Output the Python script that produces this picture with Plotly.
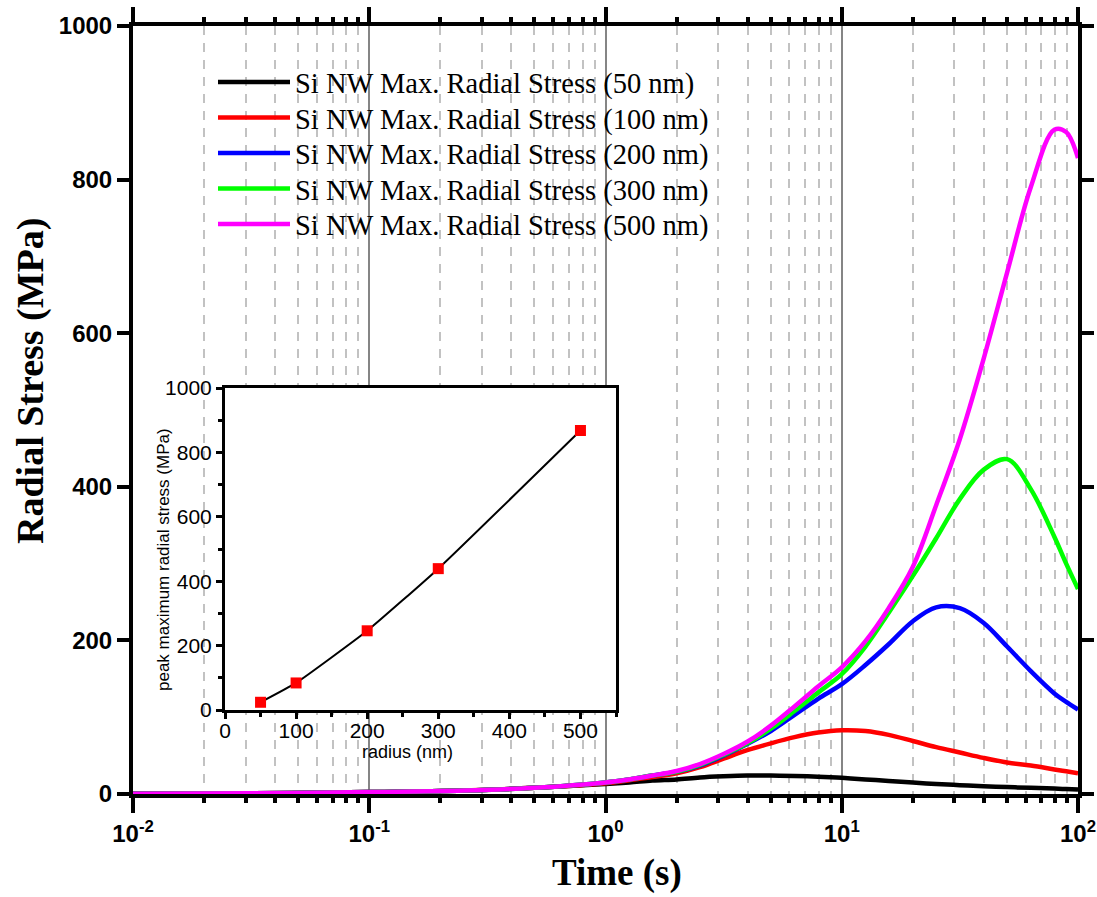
import plotly.graph_objects as go

# ---------------- data ----------------
time_s = [0.01, 0.0316, 0.1, 0.251, 0.501,
          1, 1.26, 1.58, 2, 2.51, 3.16, 3.98, 5.01, 6.31, 7.94,
          10, 12.6, 15.8, 20, 25.1, 31.6, 39.8, 50.1, 63.1, 79.4, 89.1, 100]

stress_50nm = [0.3, 1, 2.5, 4.5, 8,
               13, 15, 17.5, 19, 21.5, 23, 24, 24, 23.5, 22.5,
               21, 19, 17, 15, 13, 11.5, 10, 9, 8, 7, 6.5, 6]
stress_100nm = [0.3, 1, 2.5, 4.5, 8,
                14, 18, 22, 27, 35, 46, 57, 66, 74, 80,
                83, 82, 77, 69, 61, 54, 47, 41, 37, 32, 29.5, 27]
stress_200nm = [0.3, 1, 2.5, 4.5, 8,
                15, 19, 24, 29, 37, 50, 65, 82, 103, 124,
                143, 168, 195, 225, 243, 242, 223, 192, 160, 131, 120, 110]
stress_300nm = [0.3, 1, 2.5, 4.5, 8,
                15, 19, 24, 29, 38, 51, 66, 85, 108, 132,
                156, 192, 236, 284, 333, 384, 422, 436, 397, 335, 300, 267]
stress_500nm = [0.3, 1, 2.5, 4.5, 8,
                15, 19, 24, 30, 39, 52, 68, 89, 114, 140,
                165, 199, 242, 296, 376, 462, 566, 679, 790, 865, 862, 828]

series_names = [
    "Si NW Max. Radial Stress (50 nm)",
    "Si NW Max. Radial Stress (100 nm)",
    "Si NW Max. Radial Stress (200 nm)",
    "Si NW Max. Radial Stress (300 nm)",
    "Si NW Max. Radial Stress (500 nm)",
]
series_colors = ["#000000", "#FF0000", "#0000FF", "#00FF00", "#FF00FF"]

# inset: peak maximum radial stress vs radius
radius_nm = [50, 100, 200, 300, 500]
peak_stress = [24, 84, 246, 439, 868]

# tick labels
x_tickvals = [0.01, 0.1, 1, 10, 100]
x_ticktext = ["10<sup>-2</sup>", "10<sup>-1</sup>", "10<sup>0</sup>", "10<sup>1</sup>", "10<sup>2</sup>"]
x_minor_ticks = [m * 10.0 ** e for e in range(-2, 2) for m in range(2, 10)]

# ---------------- geometry ----------------
W, H = 1097, 897
L, R, T, B = 133, 1078, 26, 794
pw, ph = R - L, B - T


def px_x(p):
    return (p - L) / pw


def px_y(p):
    return (B - p) / ph


# ---------------- figure ----------------
fig = go.Figure()

legend_keys = ["legend", "legend2", "legend3", "legend4", "legend5"]
all_series = [stress_50nm, stress_100nm, stress_200nm, stress_300nm, stress_500nm]
for name, vals, col, lk in zip(series_names, all_series, series_colors, legend_keys):
    fig.add_trace(go.Scatter(
        x=time_s, y=vals, mode="lines", name=name, legend=lk,
        line=dict(color=col, width=4.5, shape="spline", smoothing=1.0),
    ))

# invisible carrier trace so the minor-tick axis (x4) is laid out
fig.add_trace(go.Scatter(
    x=time_s, y=stress_50nm, xaxis="x4", yaxis="y", mode="lines",
    line=dict(width=0, color="rgba(0,0,0,0)"), opacity=0,
    showlegend=False, hoverinfo="skip",
))

fig.add_trace(go.Scatter(
    x=radius_nm, y=peak_stress, mode="lines+markers", xaxis="x2", yaxis="y2",
    line=dict(color="black", width=2, shape="spline", smoothing=0.4),
    marker=dict(symbol="square", size=11, color="#FF0000"),
    showlegend=False,
))

legend_font = dict(family="Liberation Serif", size=28.5, color="black")
legend_layouts = {}
for i, lk in enumerate(legend_keys):
    row_center = 84 + 35.5 * i
    legend_layouts[lk] = dict(
        x=px_x(213), y=px_y(row_center - 27), xanchor="left", yanchor="top",
        bgcolor="rgba(0,0,0,0)", borderwidth=0, font=legend_font,
        itemwidth=72,
    )

inset_x = [px_x(225), px_x(616)]
inset_y = [px_y(710), px_y(388)]

axis_common = dict(automargin=False, zeroline=False)

fig.update_layout(
    width=W, height=H,
    margin=dict(l=L, r=W - R, t=T, b=H - B, pad=0),
    paper_bgcolor="white", plot_bgcolor="white",
    showlegend=True,
    **legend_layouts,
    xaxis=dict(
        type="log", range=[-2, 2],
        tickmode="array", tickvals=x_tickvals, ticktext=x_ticktext,
        ticks="outside", ticklen=15, tickwidth=4, tickcolor="black",
        showline=True, linewidth=4, linecolor="black", mirror="ticks",
        showgrid=True, gridcolor="#858585", gridwidth=1.5,
        minor=dict(tickmode="linear", dtick="D1", ticks="",
                   showgrid=True, gridcolor="#c2c2c2", gridwidth=1.5, griddash="9px,8px"),
        tickfont=dict(family="Liberation Sans", size=24, color="black", weight="bold"),
        **axis_common,
    ),
    xaxis4=dict(
        type="log", range=[-2, 2], overlaying="x", anchor="y", side="bottom",
        tickmode="array", tickvals=x_minor_ticks, ticktext=[""] * len(x_minor_ticks),
        ticks="outside", ticklen=8, tickwidth=4, tickcolor="black",
        showline=False, mirror="ticks", showgrid=False,
        **axis_common,
    ),
    yaxis=dict(
        range=[0, 1000], tickmode="linear", tick0=0, dtick=200,
        ticks="outside", ticklen=12, tickwidth=4, tickcolor="black",
        showline=True, linewidth=4, linecolor="black", mirror="ticks",
        showgrid=False,
        tickfont=dict(family="Liberation Sans", size=24, color="black", weight="bold"),
        **axis_common,
    ),
    xaxis2=dict(
        domain=inset_x, anchor="y2", range=[0, 550],
        tickmode="linear", tick0=0, dtick=100,
        ticks="outside", ticklen=6, tickwidth=3, tickcolor="black",
        showline=True, linewidth=3, linecolor="black", mirror=True,
        minor=dict(dtick=50, tick0=0, ticks="outside", ticklen=4, tickwidth=3, tickcolor="black"),
        showgrid=False, ticklabelstandoff=-6,
        tickfont=dict(family="Liberation Sans", size=21, color="black"),
        **axis_common,
    ),
    yaxis2=dict(
        domain=inset_y, anchor="x2", range=[0, 1000],
        tickmode="linear", tick0=0, dtick=200,
        ticks="outside", ticklen=6, tickwidth=3, tickcolor="black",
        showline=True, linewidth=3, linecolor="black", mirror=True,
        minor=dict(dtick=100, tick0=0, ticks="outside", ticklen=4, tickwidth=3, tickcolor="black"),
        showgrid=False,
        tickfont=dict(family="Liberation Sans", size=21, color="black"),
        **axis_common,
    ),
    xaxis3=dict(
        overlaying="x2", side="top", anchor="y2", range=[0, 550],
        tickmode="linear", tick0=0, dtick=100,
        ticks="inside", ticklen=6, tickwidth=3, tickcolor="black",
        minor=dict(dtick=50, tick0=0, ticks="inside", ticklen=4, tickwidth=3, tickcolor="black"),
        showticklabels=False, showgrid=False, showline=False,
        **axis_common,
    ),
    yaxis3=dict(
        overlaying="y2", side="right", anchor="x2", range=[0, 1000],
        tickmode="linear", tick0=0, dtick=200,
        ticks="inside", ticklen=6, tickwidth=3, tickcolor="black",
        minor=dict(dtick=100, tick0=0, ticks="inside", ticklen=4, tickwidth=3, tickcolor="black"),
        showticklabels=False, showgrid=False, showline=False,
        **axis_common,
    ),
    annotations=[
        dict(text="<b>Radial Stress (MPa)</b>", xref="paper", yref="paper",
             x=px_x(30), y=px_y(381), xanchor="center", yanchor="middle",
             textangle=-90, showarrow=False,
             font=dict(family="Liberation Serif", size=38, color="black")),
        dict(text="<b>Time (s)</b>", xref="paper", yref="paper",
             x=px_x(617), y=px_y(873), xanchor="center", yanchor="middle",
             showarrow=False,
             font=dict(family="Liberation Serif", size=37, color="black")),
        dict(text="peak maximum radial stress (MPa)", xref="paper", yref="paper",
             x=px_x(163), y=px_y(560), xanchor="center", yanchor="middle",
             textangle=-90, showarrow=False,
             font=dict(family="Liberation Sans", size=17, color="black")),
        dict(text="radius (nm)", xref="paper", yref="paper",
             x=px_x(407), y=px_y(752), xanchor="center", yanchor="middle",
             showarrow=False,
             font=dict(family="Liberation Sans", size=18, color="black")),
    ],
)

fig.write_html("out.html")
